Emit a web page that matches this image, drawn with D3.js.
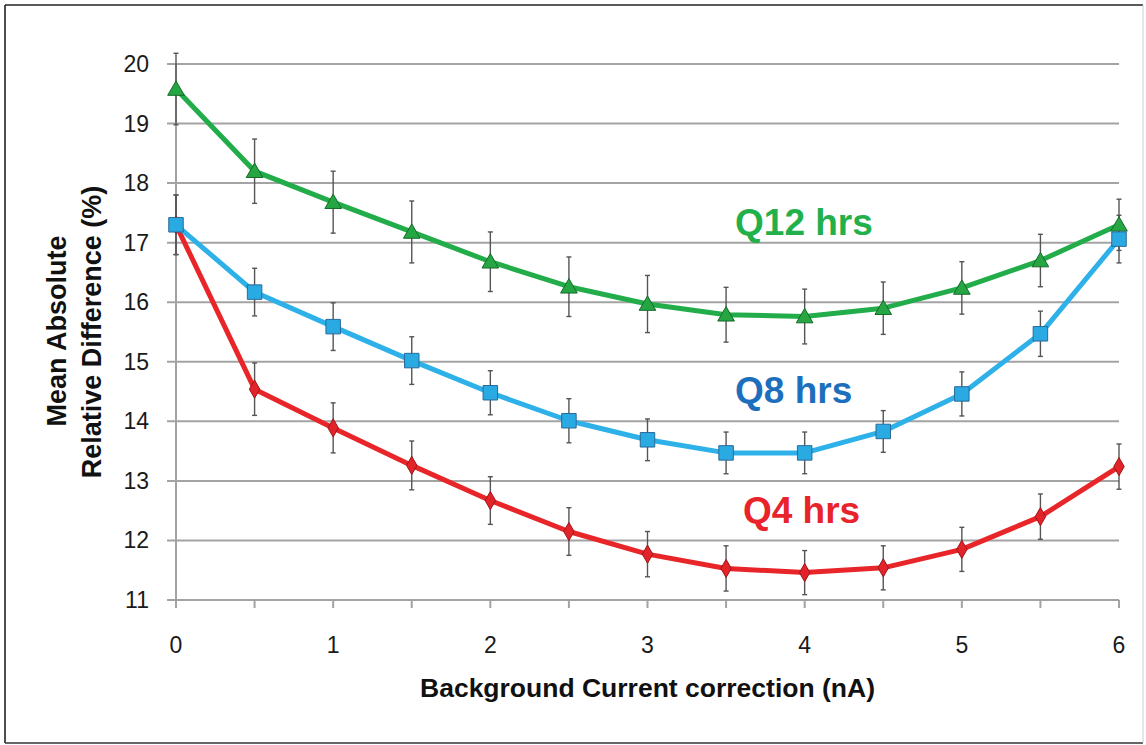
<!DOCTYPE html>
<html><head><meta charset="utf-8">
<script src="https://cdn.jsdelivr.net/npm/d3@7"></script>
<style>
html,body{margin:0;padding:0;background:#fff;}
svg{display:block;font-family:"Liberation Sans",Arial,sans-serif;}
</style></head>
<body>
<svg id="c" width="1146" height="745"></svg>
<script>
// ---- data ----
const xValues = [0,0.5,1,1.5,2,2.5,3,3.5,4,4.5,5,5.5,6];
const q12 = [19.58,18.2,17.68,17.18,16.68,16.26,15.97,15.79,15.76,15.9,16.24,16.7,17.3];
const q12Err = [0.6,0.54,0.52,0.52,0.5,0.5,0.48,0.46,0.46,0.44,0.44,0.44,0.43];
const q8 = [17.3,16.17,15.59,15.02,14.48,14.01,13.69,13.47,13.47,13.83,14.46,15.47,17.06];
const q8Err = [0.5,0.4,0.4,0.4,0.37,0.37,0.35,0.35,0.35,0.35,0.37,0.38,0.4];
const q4 = [17.3,14.54,13.89,13.26,12.67,12.15,11.77,11.53,11.46,11.54,11.85,12.4,13.24];
const q4Err = [0.5,0.44,0.42,0.41,0.4,0.4,0.38,0.38,0.37,0.37,0.37,0.38,0.38];
const yTicks = [11,12,13,14,15,16,17,18,19,20];
const xTicks = [0,1,2,3,4,5,6];
const xMinorTicks = [0,0.5,1,1.5,2,2.5,3,3.5,4,4.5,5,5.5,6];
const seriesLabels = ["Q12 hrs","Q8 hrs","Q4 hrs"];
const labelPos = [[3.557,17.13],[3.557,14.31],[3.607,12.29]]; // data coords of label baseline-left
const xTitle = "Background Current correction (nA)";
const yTitle = ["Mean Absolute","Relative Difference (%)"];

// ---- scales ----
const svg = d3.select("#c");
const x = d3.scaleLinear().domain([0,6]).range([176,1119]);
const y = d3.scaleLinear().domain([11,20]).range([600,64]);

// frame
svg.append("line").attr("x1",5).attr("y1",5).attr("x2",1143).attr("y2",5).attr("stroke","#222").attr("stroke-width",1.6);
svg.append("line").attr("x1",5).attr("y1",5).attr("x2",5).attr("y2",743).attr("stroke","#222").attr("stroke-width",1.6);
svg.append("line").attr("x1",5).attr("y1",743).attr("x2",1143).attr("y2",743).attr("stroke","#333").attr("stroke-width",1.6);
svg.append("line").attr("x1",1143).attr("y1",5).attr("x2",1143).attr("y2",743).attr("stroke","#ccc").attr("stroke-width",1);

// gridlines
const gridColor = "#a3a3a3";
svg.append("g").selectAll("line").data(yTicks).join("line")
  .attr("x1",167).attr("x2",x(6)).attr("y1",d=>y(d)).attr("y2",d=>y(d))
  .attr("stroke",gridColor).attr("stroke-width",2);

// y axis line
svg.append("line").attr("x1",x(0)).attr("x2",x(0)).attr("y1",y(20)).attr("y2",608)
  .attr("stroke",gridColor).attr("stroke-width",2);
// x ticks
svg.append("g").selectAll("line").data(xMinorTicks).join("line")
  .attr("x1",d=>x(d)).attr("x2",d=>x(d)).attr("y1",y(11)).attr("y2",608)
  .attr("stroke",gridColor).attr("stroke-width",2);

// tick labels
svg.append("g").selectAll("text").data(yTicks).join("text")
  .attr("x",149).attr("y",d=>y(d)+8).attr("text-anchor","end")
  .attr("font-size",23).attr("fill","#1a1a1a").text(d=>d);
svg.append("g").selectAll("text").data(xTicks).join("text")
  .attr("x",d=>x(d)).attr("y",653).attr("text-anchor","middle")
  .attr("font-size",23).attr("fill","#1a1a1a").text(d=>d);

// titles
svg.append("text").attr("x",647.5).attr("y",697).attr("text-anchor","middle")
  .attr("font-size",26.5).attr("font-weight","bold").attr("fill","#111").text(xTitle);
svg.append("text").attr("transform","translate(66,331) rotate(-90)").attr("text-anchor","middle")
  .attr("font-size",27).attr("font-weight","bold").attr("fill","#111").text(yTitle[0]);
svg.append("text").attr("transform","translate(101,332) rotate(-90)").attr("text-anchor","middle")
  .attr("font-size",27).attr("font-weight","bold").attr("fill","#111").text(yTitle[1]);

// series definitions
const series = [
  {vals:q12, err:q12Err, line:"#22ad4a", fill:"#25a643", stroke:"#17692b", shape:d3.symbolTriangle, size:120, dy:1.5},
  {vals:q4,  err:q4Err,  line:"#e8262a", fill:"#e3232a", stroke:"#9c1519", shape:d3.symbolDiamond, size:95, dy:0},
  {vals:q8,  err:q8Err,  line:"#2eb1e8", fill:"#2aaae2", stroke:"#2a6a98", shape:d3.symbolSquare, size:210, dy:0}
];

// error bars
const eb = svg.append("g");
series.forEach(s=>{
  xValues.forEach((xv,i)=>{
    const cx = x(xv), t = y(s.vals[i]+s.err[i]), b = y(s.vals[i]-s.err[i]);
    eb.append("line").attr("x1",cx).attr("x2",cx).attr("y1",t).attr("y2",b).attr("stroke","#555").attr("stroke-width",1.4);
    eb.append("line").attr("x1",cx-2.5).attr("x2",cx+2.5).attr("y1",t).attr("y2",t).attr("stroke","#555").attr("stroke-width",1.4);
    eb.append("line").attr("x1",cx-2.5).attr("x2",cx+2.5).attr("y1",b).attr("y2",b).attr("stroke","#555").attr("stroke-width",1.4);
  });
});

// lines and markers
const lineGen = d3.line().x((d,i)=>x(xValues[i])).y(d=>y(d)).curve(d3.curveLinear);
series.forEach(s=>{
  svg.append("path").datum(s.vals).attr("d",lineGen).attr("fill","none")
    .attr("stroke",s.line).attr("stroke-width",5).attr("stroke-linejoin","round");
});
series.forEach(s=>{
  svg.append("g").selectAll("path").data(s.vals).join("path")
    .attr("transform",(d,i)=>`translate(${x(xValues[i])},${y(d)+s.dy})`)
    .attr("d",d3.symbol().type(s.shape).size(s.size))
    .attr("fill",s.fill).attr("stroke",s.stroke).attr("stroke-width",1);
});

// series labels
const labelColors = ["#22b04b","#1d6fbd","#e8232a"];
svg.append("g").selectAll("text").data(seriesLabels).join("text")
  .attr("x",(d,i)=>x(labelPos[i][0])).attr("y",(d,i)=>y(labelPos[i][1]))
  .attr("font-size",37).attr("font-weight","bold").attr("fill",(d,i)=>labelColors[i]).text(d=>d);
</script>
</body></html>
